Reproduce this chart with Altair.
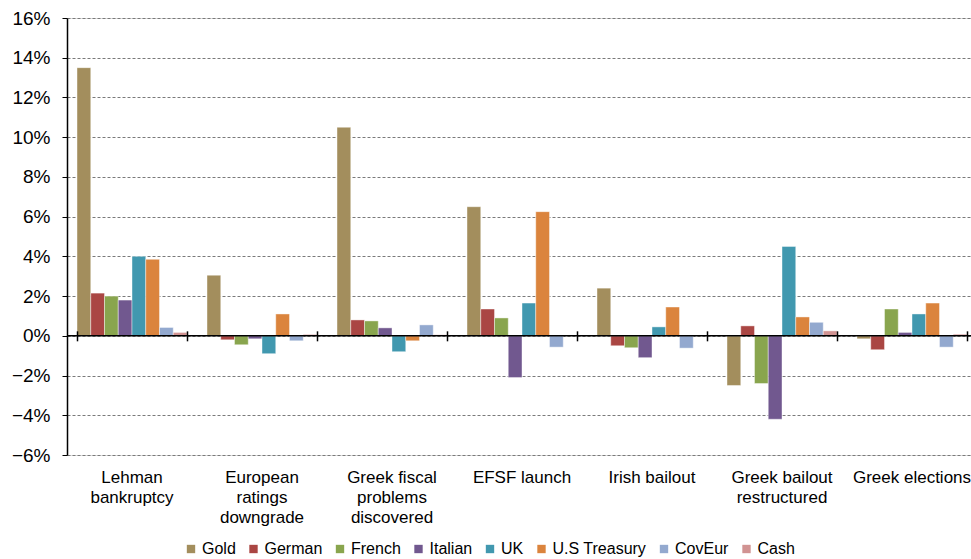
import altair as alt
import pandas as pd

events = ["Lehman|bankruptcy", "European|ratings|downgrade", "Greek fiscal|problems|discovered",
          "EFSF launch", "Irish bailout", "Greek bailout|restructured", "Greek elections"]
series = ["Gold", "German", "French", "Italian", "UK", "U.S Treasury", "CovEur", "Cash"]
colors = ["#A38E5D", "#AA4643", "#89A54E", "#71588F", "#4198AF", "#DB843D", "#93A9CF", "#D19392"]
ticks_pct = [-6, -4, -2, 0, 2, 4, 6, 8, 10, 12, 14, 16]

gold =     [13.5, 3.05, 10.5, 6.5, 2.4, -2.5, -0.15]
german =   [2.15, -0.2, 0.8, 1.35, -0.5, 0.5, -0.7]
french =   [2.0, -0.45, 0.75, 0.9, -0.6, -2.4, 1.35]
italian =  [1.8, -0.15, 0.4, -2.1, -1.1, -4.2, 0.17]
uk =       [4.0, -0.9, -0.8, 1.65, 0.45, 4.5, 1.1]
ust =      [3.85, 1.1, -0.25, 6.25, 1.45, 0.95, 1.65]
coveur =   [0.42, -0.25, 0.55, -0.57, -0.62, 0.68, -0.57]
cash =     [0.17, 0.07, 0.05, 0.02, 0.02, 0.25, 0.08]

vals = [gold, german, french, italian, uk, ust, coveur, cash]
rows = []
for s, v in zip(series, vals):
    for e, x in zip(events, v):
        rows.append({"event": e, "series": s, "value": x / 100})
df = pd.DataFrame(rows)
ev = pd.DataFrame({"event": events})
zero = pd.DataFrame({"value": [0.0]})

FONT = "Liberation Sans"
H = 437
ZERO = H * 16 / 22
xscale = alt.Scale(range=[0, 910], paddingInner=0.154, paddingOuter=0.077)
yscale = alt.Scale(domain=[-0.06, 0.16], nice=False)
yaxis = alt.Axis(title=None, format=".0%", values=[t / 100 for t in ticks_pct],
                 grid=True, gridDash=[3, 2], gridColor="#7a7a7a", gridWidth=1,
                 domainColor="#000", domainWidth=1.5, tickColor="#000", tickSize=5,
                 labelFontSize=19, labelFont=FONT, labelColor="#000", labelPadding=12)

bars = alt.Chart(df).mark_bar(stroke="white", strokeWidth=0.6, strokeOpacity=0.7).encode(
    x=alt.X("event:N", sort=events, scale=xscale,
            axis=alt.Axis(title=None, orient="bottom", domain=False, ticks=False, grid=False,
                          labelAngle=0, labelFontSize=17, labelFont=FONT, labelColor="#000",
                          labelPadding=14, labelLineHeight=20, labelLimit=300,
                          labelExpr="split(datum.label, '|')")),
    xOffset=alt.XOffset("series:N", sort=series, scale=alt.Scale(paddingInner=0, paddingOuter=0)),
    y=alt.Y("value:Q", scale=yscale, axis=yaxis),
    color=alt.Color("series:N", sort=series, scale=alt.Scale(domain=series, range=colors),
                    legend=alt.Legend(title=None, orient="none", direction="horizontal",
                                      legendX=116, legendY=523, symbolType="square", symbolSize=70,
                                      symbolStrokeWidth=0, labelFontSize=16, labelFont=FONT,
                                      labelColor="#000", columnPadding=9.5, labelOffset=3, padding=0)),
)

zero_line = alt.Chart(zero).mark_rule(color="#000", strokeWidth=1.6).encode(
    y=alt.Y("value:Q", scale=yscale, axis=yaxis),
)

zero_ticks = alt.Chart(ev).mark_tick(opacity=0).encode(
    x=alt.X("event:N", sort=events, scale=xscale,
            axis=alt.Axis(title=None, orient="bottom", offset=-(H - ZERO) - 5, labels=False,
                          grid=False, domain=False, tickColor="#000", tickWidth=1.5,
                          tickSize=10, tickBand="extent", zindex=1)),
)

chart = alt.layer(bars, zero_line, zero_ticks).resolve_axis(x="independent").properties(
    width=904, height=H,
    autosize=alt.AutoSizeParams(type="none"),
    padding={"left": 67, "top": 18, "right": 0, "bottom": 104},
).configure_view(stroke=None).configure(background="white")

chart.save("out.html", embed_options={"renderer": "svg", "actions": False})
